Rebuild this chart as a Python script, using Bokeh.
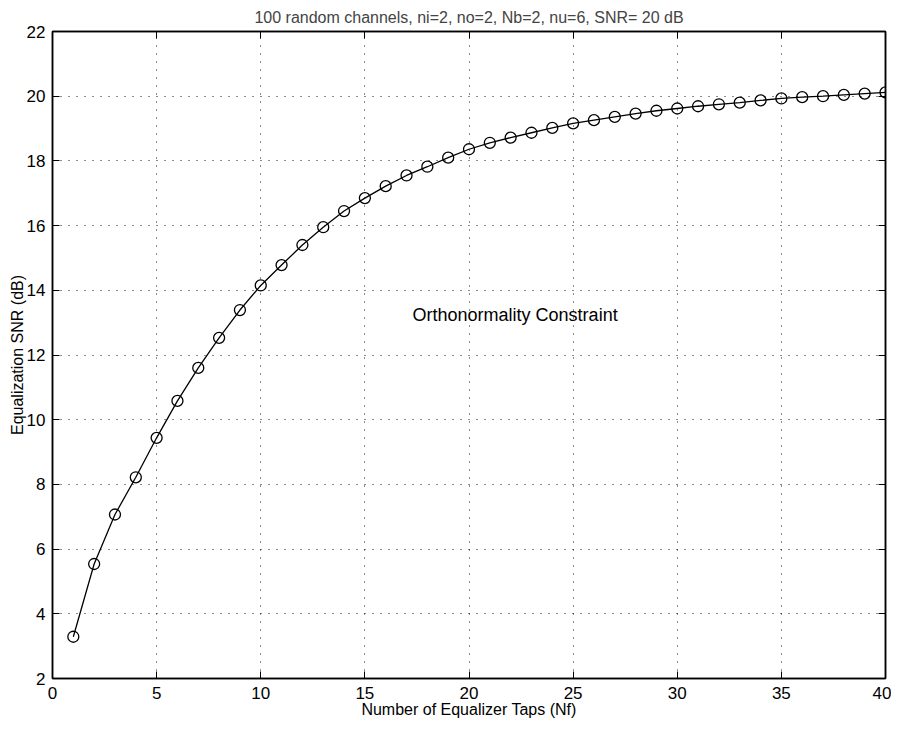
from bokeh.plotting import figure
from bokeh.models import LinearAxis, Range1d, FixedTicker, Label
from bokeh.embed import file_html
from bokeh.resources import INLINE

taps = list(range(1, 41))
snr_db = [3.29, 5.54, 7.07, 8.22, 9.44, 10.58, 11.6, 12.53, 13.39, 14.15,
          14.78, 15.4, 15.95, 16.45, 16.85, 17.22, 17.55, 17.82, 18.1, 18.36,
          18.56, 18.72, 18.87, 19.02, 19.16, 19.26, 19.36, 19.46, 19.55, 19.62,
          19.69, 19.75, 19.8, 19.87, 19.93, 19.97, 20.0, 20.04, 20.08, 20.12]
x_ticks = [0, 5, 10, 15, 20, 25, 30, 35, 40]
y_ticks = [2, 4, 6, 8, 10, 12, 14, 16, 18, 20, 22]
title_text = "100 random channels, ni=2, no=2, Nb=2, nu=6, SNR= 20 dB"
x_label = "Number of Equalizer Taps (Nf)"
y_label = "Equalization SNR (dB)"
note_text = "Orthonormality Constraint"
note_pos = (17.29, 13.23)

FONT = "Liberation Sans"

p = figure(width=891, height=721, output_backend="svg", toolbar_location=None,
           x_range=Range1d(0, 40), y_range=Range1d(2, 22),
           min_border_left=52, min_border_right=6, min_border_top=31,
           min_border_bottom=43, x_axis_label=x_label, y_axis_label=y_label)

p.title.text = title_text
p.title.align = "center"
p.title.text_font = FONT
p.title.text_font_size = "16px"
p.title.text_font_style = "normal"
p.title.standoff = 12

p.outline_line_color = "black"
p.outline_line_width = 1.5

for ax, ticks in ((p.xaxis[0], x_ticks), (p.yaxis[0], y_ticks)):
    ax.ticker = FixedTicker(ticks=ticks)
    ax.major_tick_in = 7
    ax.major_tick_out = 0
    ax.minor_tick_line_color = None
    ax.axis_line_color = "black"
    ax.axis_line_width = 1.5
    ax.major_tick_line_color = "black"
    ax.major_label_text_font = FONT
    ax.major_label_text_font_size = "17px"
    ax.major_label_text_color = "black"
    ax.axis_label_text_font = FONT
    ax.axis_label_text_font_size = "16px"
    ax.axis_label_text_font_style = "normal"
    ax.axis_label_text_color = "black"

p.xaxis[0].major_label_standoff = 8
p.xaxis[0].axis_label_standoff = -1
p.yaxis[0].major_label_standoff = 7
p.yaxis[0].axis_label_standoff = -2

for loc, ticks in (("right", y_ticks), ("above", x_ticks)):
    ax = LinearAxis(ticker=FixedTicker(ticks=ticks), major_tick_in=7, major_tick_out=0,
                    minor_tick_line_color=None, major_label_text_font_size="1px",
                    major_label_text_color=None,
                    major_label_overrides={t: "" for t in ticks},
                    major_label_standoff=0, axis_line_color="black", axis_line_width=1.5)
    p.add_layout(ax, loc)

p.xgrid.ticker = FixedTicker(ticks=x_ticks)
p.ygrid.ticker = FixedTicker(ticks=y_ticks)
for g in (p.xgrid[0], p.ygrid[0]):
    g.grid_line_color = "black"
    g.grid_line_dash = "1 7"
    g.grid_line_width = 1
    g.grid_line_alpha = 0.9

p.line(taps, snr_db, line_color="black", line_width=1.3)
p.scatter(taps, snr_db, marker="circle", size=11, fill_color=None,
          line_color="black", line_width=1.3)

p.add_layout(Label(x=note_pos[0], y=note_pos[1], text=note_text, text_font=FONT,
                   text_font_size="18px", text_baseline="middle", text_align="left",
                   text_color="black"))

open("out.html", "w").write(file_html(p, INLINE))
